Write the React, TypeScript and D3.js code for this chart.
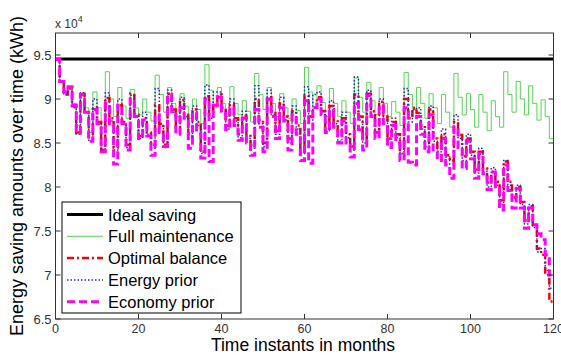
import * as d3 from 'd3';

// months 0..120, values in units of 1e4 kWh
const months = d3.range(0, 121);

const ideal = 9.455;

const fullMaintenance = [
  9.45, 9.2, 9.1, 9.13, 8.95, 8.7, 9.06, 8.9, 8.62, 9.08,
  8.9, 8.68, 9.31, 9.0, 8.8, 9.13, 8.92, 8.78, 9.11, 8.9,
  8.82, 9.0, 8.85, 8.75, 9.27, 9.05, 8.85, 9.13, 8.95, 8.8,
  9.06, 8.92, 8.78, 9.0, 8.88, 8.72, 9.39, 9.1, 8.9, 9.13,
  8.95, 8.8, 9.14, 8.95, 8.82, 8.98, 8.86, 8.74, 9.29, 9.05,
  8.88, 9.13, 8.95, 8.8, 9.06, 8.9, 8.78, 9.0, 8.87, 8.72,
  9.36, 9.08, 8.9, 9.15, 8.96, 8.8, 9.12, 8.95, 8.8, 8.98,
  8.85, 8.72, 9.24, 9.02, 8.85, 9.19, 8.98, 8.82, 9.13, 8.95,
  8.8, 8.97, 8.85, 8.7, 9.3, 9.05, 8.88, 9.13, 8.95, 8.78,
  9.06, 8.9, 8.72, 9.05, 8.85, 8.68, 9.29, 9.02, 8.82, 9.06,
  8.88, 8.68, 9.05, 8.85, 8.64, 8.98, 8.8, 8.68, 9.31, 9.05,
  8.85, 9.2, 9.0, 8.82, 9.15, 8.95, 8.76, 8.99, 8.8, 8.55,
  8.55,
];

const optimalBalance = [
  9.45, 9.2, 9.05, 9.12, 8.92, 8.62, 9.06, 8.86, 8.55, 8.9,
  8.74, 8.42, 9.01, 8.78, 8.45, 8.93, 8.74, 8.48, 9.06, 8.82,
  8.58, 8.78, 8.62, 8.48, 8.93, 8.72, 8.48, 9.06, 8.88, 8.68,
  8.99, 8.82, 8.58, 8.88, 8.74, 8.4, 9.03, 8.8, 8.93, 9.05,
  8.9, 8.7, 8.94, 8.78, 8.6, 8.81, 8.58, 8.48, 9.0, 8.76,
  8.5, 9.02, 8.86, 8.64, 8.95, 8.8, 8.55, 8.86, 8.7, 8.42,
  9.04, 8.8, 8.9, 9.02, 8.86, 8.68, 8.92, 8.76, 8.58, 8.78,
  8.6, 8.46, 9.05, 8.8, 8.55, 9.06, 8.86, 8.62, 8.97, 8.8,
  8.55, 8.74, 8.6, 8.42, 9.0, 8.78, 8.9, 8.84, 8.7, 8.5,
  8.88, 8.55, 8.45, 8.6, 8.36, 8.3, 8.74, 8.59, 8.35, 8.55,
  8.4, 8.2, 8.4, 8.21, 8.05, 8.17, 8.06, 7.85, 8.29, 8.06,
  7.88, 8.0, 7.83, 7.62, 7.78, 7.57, 7.3, 7.23, 7.0, 6.7,
  6.7,
];

const energyPrior = [
  9.45, 9.2, 9.05, 9.13, 8.9, 8.6, 9.07, 8.85, 8.52, 9.0,
  8.72, 8.4, 9.07, 8.75, 8.42, 9.0, 8.72, 8.45, 9.04, 8.8,
  8.55, 8.85, 8.6, 8.44, 9.12, 8.7, 8.45, 9.1, 8.85, 8.64,
  9.02, 8.8, 8.54, 8.92, 8.7, 8.38, 9.16, 8.78, 9.08, 9.08,
  8.86, 8.66, 9.0, 8.75, 8.56, 8.86, 8.55, 8.44, 9.15, 8.72,
  8.46, 9.1, 8.82, 8.6, 9.02, 8.76, 8.5, 8.92, 8.66, 8.38,
  9.14, 8.76, 9.05, 9.08, 8.82, 8.64, 8.98, 8.72, 8.52, 8.85,
  8.56, 8.42, 9.25, 8.76, 8.5, 9.1, 8.82, 8.58, 9.0, 8.76,
  8.5, 8.78, 8.56, 8.38, 9.12, 8.74, 8.88, 8.9, 8.66, 8.46,
  8.92, 8.52, 8.4, 8.66, 8.34, 8.26, 8.82, 8.55, 8.3, 8.6,
  8.36, 8.16, 8.44, 8.18, 8.0, 8.22, 8.02, 7.8, 8.3, 8.02,
  7.84, 8.02, 7.8, 7.58, 7.8, 7.54, 7.26, 7.3, 7.05, 6.85,
  6.85,
];

const economyPrior = [
  9.45, 9.2, 9.08, 9.14, 8.93, 8.61, 9.05, 8.85, 8.52, 8.88,
  8.72, 8.4, 8.95, 8.7, 8.26, 8.93, 8.72, 8.42, 9.0, 8.8,
  8.55, 8.76, 8.58, 8.36, 8.82, 8.62, 8.46, 9.05, 8.82, 8.6,
  8.9, 8.78, 8.44, 8.85, 8.62, 8.33, 9.0, 8.29, 8.93, 9.02,
  8.86, 8.65, 8.9, 8.7, 8.53, 8.78, 8.5, 8.36, 8.88, 8.68,
  8.4, 9.0, 8.8, 8.55, 8.9, 8.75, 8.42, 8.82, 8.6, 8.3,
  8.98, 8.27, 8.9, 9.0, 8.82, 8.62, 8.88, 8.68, 8.5, 8.75,
  8.48, 8.34, 8.95, 8.65, 8.42, 9.04, 8.8, 8.55, 8.92, 8.72,
  8.45, 8.7, 8.5, 8.3, 8.9, 8.28, 8.25, 8.8, 8.6, 8.4,
  8.82, 8.4, 8.3, 8.55, 8.25, 8.1, 8.68, 8.45, 8.21, 8.52,
  8.32, 8.1, 8.38, 8.15, 7.97, 8.17, 7.98, 7.74, 8.25, 7.96,
  7.76, 7.98, 7.76, 7.53, 7.76, 7.57, 7.47, 7.4, 7.23, 7.0,
  7.0,
];

const xTicks = [0, 20, 40, 60, 80, 100, 120];
const yTicks = [6.5, 7, 7.5, 8, 8.5, 9, 9.5];

const legendNames = ['Ideal saving', 'Full maintenance', 'Optimal balance', 'Energy prior', 'Economy prior'];

const W = 561;
const H = 356;
const FONT = 'Arial, "Liberation Sans", sans-serif';

const styles = [
  { stroke: '#000000', width: 3, dash: '' },
  { stroke: '#55d455', width: 1, dash: '' },
  { stroke: '#ff0000', width: 2.5, dash: '7,3,2,3' },
  { stroke: '#2a2ab8', width: 1.5, dash: '1.5,2' },
  { stroke: '#ff00ff', width: 3, dash: '8,4' },
];

export default function App() {
  const x = d3.scaleLinear().domain([0, 120]).range([55.5, 553.5]);
  const y = d3.scaleLinear().domain([6.5, 9.75]).range([319, 33]);

  const line = d3
    .line<number>()
    .x((_, i) => x(months[i]))
    .y((d) => y(d))
    .curve(d3.curveStepAfter);

  const series = [
    months.map(() => ideal),
    fullMaintenance,
    optimalBalance,
    energyPrior,
    economyPrior,
  ];

  const [x0, x1] = x.range();
  const [yb, yt] = y.range();

  const legendX = 62;
  const legendY = 202;
  const legendW = 179;
  const legendH = 111;
  const rowY = (i: number) => legendY + 12.5 + i * 21.8;

  return (
    <svg
      width={W}
      height={H}
      style={{ position: 'absolute', left: 0, top: 0, background: '#fff' }}
      fontFamily={FONT}
    >
      <rect width={W} height={H} fill="#fff" />

      {/* data */}
      {series.map((s, i) => (
        <path
          key={i}
          d={line(s) ?? ''}
          fill="none"
          stroke={styles[i].stroke}
          strokeWidth={styles[i].width}
          strokeDasharray={styles[i].dash || undefined}
        />
      ))}

      {/* axes box */}
      <rect x={x0} y={yt} width={x1 - x0} height={yb - yt} fill="none" stroke="#333" strokeWidth={1} />

      {xTicks.map((t) => (
        <g key={'x' + t}>
          <line x1={x(t)} x2={x(t)} y1={yb} y2={yb - 5} stroke="#333" />
          <line x1={x(t)} x2={x(t)} y1={yt} y2={yt + 5} stroke="#333" />
          <text x={x(t)} y={yb + 14} textAnchor="middle" fontSize={12.5} fill="#333">
            {t}
          </text>
        </g>
      ))}
      {yTicks.map((t) => (
        <g key={'y' + t}>
          <line x1={x0} x2={x0 + 5} y1={y(t)} y2={y(t)} stroke="#333" />
          <line x1={x1} x2={x1 - 5} y1={y(t)} y2={y(t)} stroke="#333" />
          <text x={x0 - 4} y={y(t) + 4.5} textAnchor="end" fontSize={13} fill="#333">
            {t}
          </text>
        </g>
      ))}

      {/* exponent */}
      <text x={55} y={28} fontSize={12} fill="#333">
        x 10
        <tspan dy={-6} fontSize={9}>
          4
        </tspan>
      </text>

      {/* axis labels */}
      <text x={303} y={351} textAnchor="middle" fontSize={17.5} fill="#000">
        Time instants in months
      </text>
      <text
        transform={`translate(23, 176) rotate(-90)`}
        textAnchor="middle"
        fontSize={18}
        fill="#000"
      >
        Energy saving amounts over time (kWh)
      </text>

      {/* legend */}
      <rect x={legendX} y={legendY} width={legendW} height={legendH} fill="#fff" stroke="#000" strokeWidth={1} />
      {legendNames.map((name, i) => (
        <g key={name}>
          <line
            x1={legendX + 5}
            x2={legendX + 41}
            y1={rowY(i)}
            y2={rowY(i)}
            stroke={styles[i].stroke}
            strokeWidth={styles[i].width}
            strokeDasharray={styles[i].dash || undefined}
          />
          <text x={legendX + 46} y={rowY(i) + 6} fontSize={16.5} fill="#000">
            {name}
          </text>
        </g>
      ))}
    </svg>
  );
}
